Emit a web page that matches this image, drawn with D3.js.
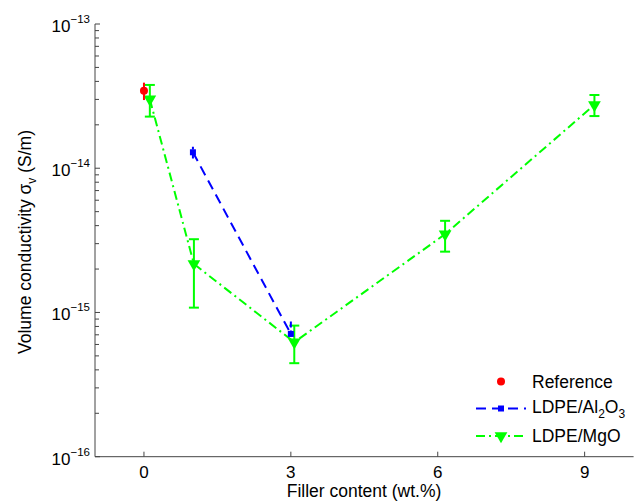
<!doctype html>
<head>
<meta charset="utf-8">
<script src="https://cdnjs.cloudflare.com/ajax/libs/d3/7.8.5/d3.min.js" charset="utf-8"></script>
<style>
body { margin: 0; background: #fff; }
text { font-family: "Liberation Sans", Arial, sans-serif; fill: #000; }
</style>
</head>
<body>
<script>

// data
var ref_x = [0];
var ref_y = [3.44e-14];
var ref_lo = [2.97e-14];
var ref_hi = [3.92e-14];

var al_x = [1, 3];
var al_y = [1.29e-14, 7.1e-16];
var al_lo = [1.17e-14, 6.8e-16];
var al_hi = [1.41e-14, 8.65e-16];

var mg_x = [0.12, 1.02, 3.07, 6.15, 9.2];
var mg_y = [3.01e-14, 2.17e-15, 6.22e-16, 3.49e-15, 2.75e-14];
var mg_lo = [2.28e-14, 1.08e-15, 4.45e-16, 2.64e-15, 2.30e-14];
var mg_hi = [3.78e-14, 3.22e-15, 8.11e-16, 4.32e-15, 3.22e-14];

var x_ticks = [0, 3, 6, 9];
var y_ticks = [-16, -15, -14, -13];
var legend_labels = ["Reference", "LDPE/Al2O3", "LDPE/MgO"];

var W = 634, H = 504;
var svg = d3.select("body").append("svg")
  .attr("width", W)
  .attr("height", H);

var x = d3.scaleLinear().domain([-1, 10]).range([95, 633.6]);
var y = d3.scaleLog().domain([1e-16, 1e-13]).range([456.7, 24]);

var axisColor = "#444";

// axes lines
svg.append("line")
  .attr("x1", x(-1)).attr("x2", x(10))
  .attr("y1", y(1e-16)).attr("y2", y(1e-16))
  .style("stroke", axisColor);
svg.append("line")
  .attr("x1", x(-1)).attr("x2", x(-1))
  .attr("y1", y(1e-16)).attr("y2", y(1e-13))
  .style("stroke", axisColor);

// x ticks (inward)
x_ticks.forEach(t => {
  svg.append("line")
    .attr("x1", x(t)).attr("x2", x(t))
    .attr("y1", y(1e-16)).attr("y2", y(1e-16) - 5)
    .style("stroke", axisColor);
  svg.append("text")
    .attr("x", x(t)).attr("y", 478)
    .attr("text-anchor", "middle")
    .style("font-size", "17px")
    .text(t);
});

// y ticks, major + minor
y_ticks.forEach(p => {
  var v = Math.pow(10, p);
  svg.append("line")
    .attr("x1", x(-1)).attr("x2", x(-1) + 5)
    .attr("y1", y(v)).attr("y2", y(v))
    .style("stroke", axisColor);
  var t = svg.append("text")
    .attr("x", 90).attr("y", y(v) + 8)
    .attr("text-anchor", "end")
    .style("font-size", "17px");
  t.append("tspan").text("10");
  t.append("tspan").attr("dy", -9).style("font-size", "11.5px").text("\u2212" + (-p));
  if (p < -13) {
    d3.range(2, 10).forEach(m => {
      svg.append("line")
        .attr("x1", x(-1)).attr("x2", x(-1) + 4)
        .attr("y1", y(m * v)).attr("y2", y(m * v))
        .style("stroke", axisColor);
    });
  }
});

// axis titles
svg.append("text")
  .attr("x", (95 + 633) / 2 + 0).attr("y", 497)
  .attr("text-anchor", "middle")
  .style("font-size", "17.5px")
  .text("Filler content (wt.%)");

var yl = svg.append("text")
  .attr("transform", "translate(31,242) rotate(-90)")
  .attr("text-anchor", "middle")
  .style("font-size", "17.5px");
yl.append("tspan").text("Volume conductivity  \u03c3");
yl.append("tspan").attr("dy", 5).style("font-size", "12px").text("v");
yl.append("tspan").attr("dy", -5).text(" (S/m)");

// helpers
function zip(xs, ys, lo, hi) {
  return xs.map((d, i) => ({x: d, y: ys[i], lo: lo[i], hi: hi[i]}));
}
var ref = zip(ref_x, ref_y, ref_lo, ref_hi);
var al = zip(al_x, al_y, al_lo, al_hi);
var mg = zip(mg_x, mg_y, mg_lo, mg_hi);

var line = d3.line().x(d => x(d.x)).y(d => y(d.y));

function errorbars(data, color, cap, dash) {
  var g = svg.append("g");
  data.forEach(d => {
    g.append("line")
      .attr("x1", x(d.x)).attr("x2", x(d.x))
      .attr("y1", y(d.lo)).attr("y2", y(d.hi))
      .style("stroke", color).style("stroke-width", 2)
      .style("stroke-dasharray", dash || null);
    if (cap > 0) {
      [d.lo, d.hi].forEach(v => {
        g.append("line")
          .attr("x1", x(d.x) - cap).attr("x2", x(d.x) + cap)
          .attr("y1", y(v)).attr("y2", y(v))
          .style("stroke", color).style("stroke-width", 2);
      });
    }
  });
}

var tri = d3.symbol().type(d3.symbolTriangle).size(70);

// MgO
svg.append("path").datum(mg)
  .attr("d", line)
  .style("fill", "none").style("stroke", "#00ff00").style("stroke-width", 2)
  .style("stroke-dasharray", "9,4,2,4");
errorbars(mg, "#00ff00", 5);
svg.selectAll(".mg").data(mg).enter().append("path")
  .attr("d", tri)
  .attr("transform", d => "translate(" + x(d.x) + "," + y(d.y) + ") rotate(180)")
  .style("fill", "#00ff00");

// Al2O3
svg.append("path").datum(al)
  .attr("d", line)
  .style("fill", "none").style("stroke", "#0000ff").style("stroke-width", 2)
  .style("stroke-dasharray", "10,6");
errorbars(al, "#0000ff", 0, "6,3");
svg.selectAll(".al").data(al).enter().append("rect")
  .attr("x", d => x(d.x) - 3).attr("y", d => y(d.y) - 3)
  .attr("width", 6).attr("height", 6)
  .style("fill", "#0000ff");

// reference
errorbars(ref, "#ff0000", 0);
svg.selectAll(".ref").data(ref).enter().append("circle")
  .attr("cx", d => x(d.x)).attr("cy", d => y(d.y))
  .attr("r", 4)
  .style("fill", "#ff0000");

// legend
var lg = svg.append("g");
lg.append("circle").attr("cx", 501).attr("cy", 381.5).attr("r", 4).style("fill", "#ff0000");
lg.append("text").attr("x", 532).attr("y", 388).style("font-size", "17.5px").text(legend_labels[0]);

lg.append("line").attr("x1", 476).attr("x2", 526).attr("y1", 408.5).attr("y2", 408.5)
  .style("stroke", "#0000ff").style("stroke-width", 2).style("stroke-dasharray", "10,6");
lg.append("rect").attr("x", 498).attr("y", 405.5).attr("width", 6).attr("height", 6).style("fill", "#0000ff");
var t2 = lg.append("text").attr("x", 532).attr("y", 413).style("font-size", "17.5px");
t2.append("tspan").text("LDPE/Al");
t2.append("tspan").attr("dy", 5).style("font-size", "12px").text("2");
t2.append("tspan").attr("dy", -5).text("O");
t2.append("tspan").attr("dy", 5).style("font-size", "12px").text("3");

lg.append("line").attr("x1", 476).attr("x2", 526).attr("y1", 436).attr("y2", 436)
  .style("stroke", "#00ff00").style("stroke-width", 2).style("stroke-dasharray", "9,4,2,4");
lg.append("path").attr("d", tri)
  .attr("transform", "translate(501,436) rotate(180)")
  .style("fill", "#00ff00");
lg.append("text").attr("x", 532).attr("y", 441.5).style("font-size", "17.5px").text(legend_labels[2]);

</script>
</body>
</html>
